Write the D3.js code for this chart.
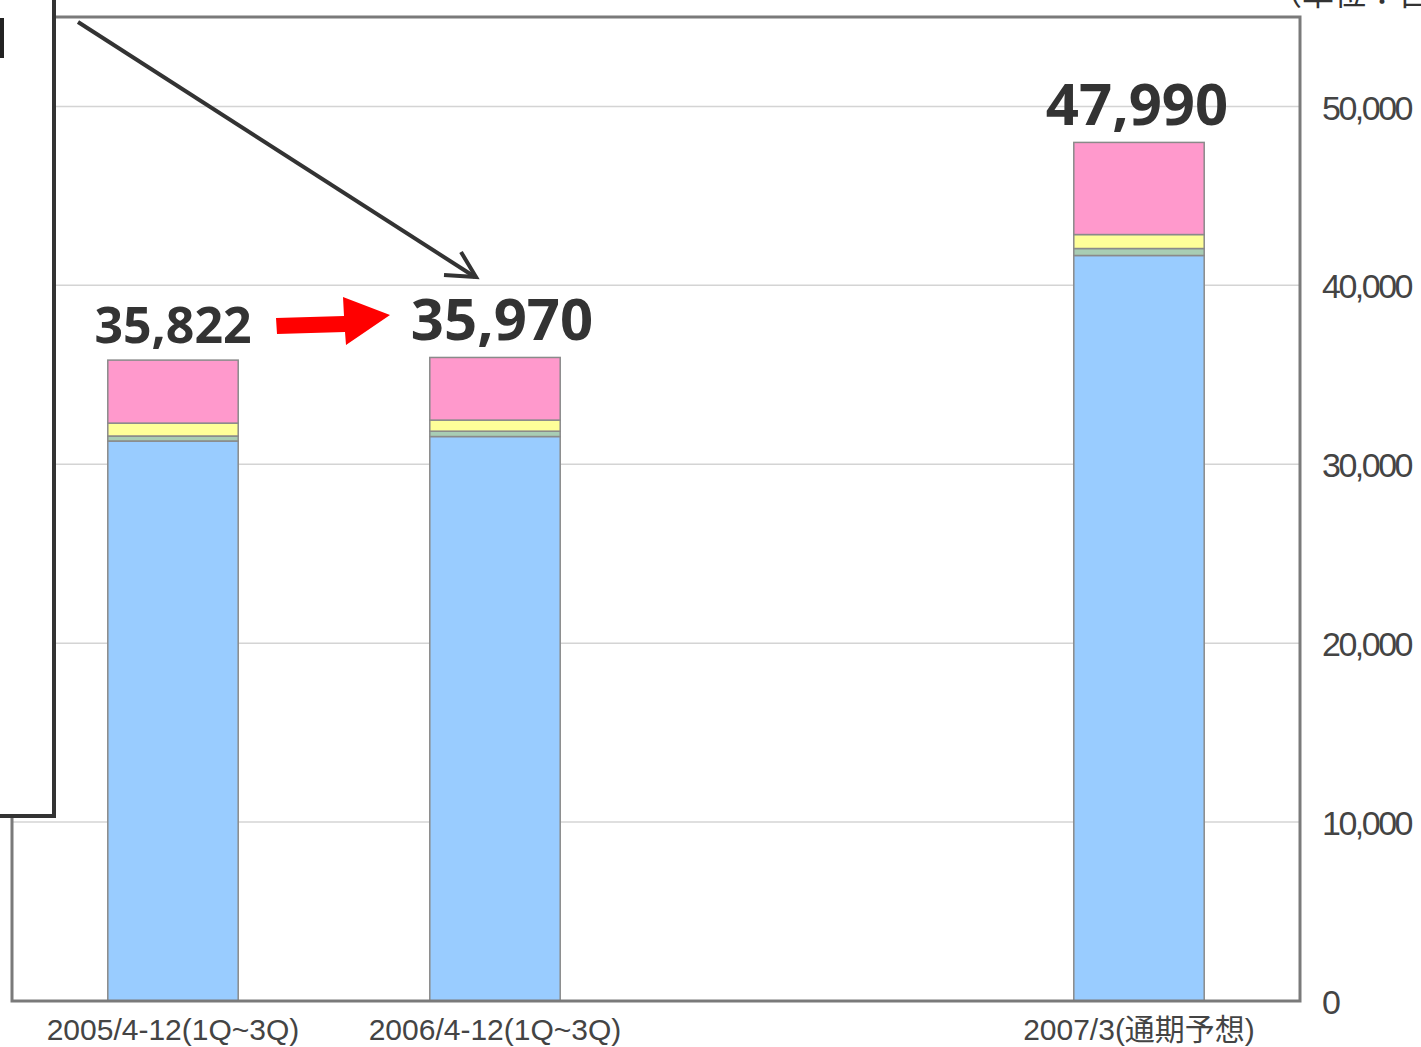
<!DOCTYPE html>
<html>
<head>
<meta charset="utf-8">
<script src="https://cdn.jsdelivr.net/npm/d3@7"></script>
<style>
  body { margin: 0; background: #fff; }
  svg { display: block; }
</style>
</head>
<body>
<svg id="chart"></svg>
<script>
// Data (millions of yen)
var periods = ["2005/4-12(1Q~3Q)", "2006/4-12(1Q~3Q)", "_gap", "2007/3(通期予想)"];
var seriesKeys = ["s1", "s2", "s3", "s4"];
var s1 = [31300, 31550, 41670];
var s2 = [280, 300, 390];
var s3 = [720, 620, 780];
var s4 = [3522, 3500, 5150];
var barPeriods = ["2005/4-12(1Q~3Q)", "2006/4-12(1Q~3Q)", "2007/3(通期予想)"];
var yTicks = [0, 10000, 20000, 30000, 40000, 50000];
var unitLabel = "（単位：百万円）";

var colors = { s1: "#99ccff", s2: "#a8cdb4", s3: "#ffff99", s4: "#ff99cc" };
var totalFont = [50, 58, 58];
var totalDx = [0, 7, -2];

var W = 1421, H = 1047;
var plot = { left: 12, right: 1300, top: 17, bottom: 1001 };

var svg = d3.select("#chart").attr("width", W).attr("height", H);

var rows = barPeriods.map(function(p, i) {
  return { period: p, s1: s1[i], s2: s2[i], s3: s3[i], s4: s4[i] };
});

var x = d3.scaleBand()
  .domain(periods)
  .range([plot.left, plot.right])
  .paddingInner(0.595)
  .paddingOuter(0.2975);

var y = d3.scaleLinear()
  .domain([0, 55000])
  .range([plot.bottom, plot.top]);

// gridlines
svg.append("g")
  .selectAll("line")
  .data(yTicks.slice(1))
  .join("line")
  .attr("x1", plot.left)
  .attr("x2", plot.right)
  .attr("y1", d => y(d))
  .attr("y2", d => y(d))
  .attr("stroke", "#d4d4d4")
  .attr("stroke-width", 1.5);

// stacked bars
var stack = d3.stack().keys(seriesKeys)(rows);
svg.append("g")
  .selectAll("g")
  .data(stack)
  .join("g")
  .attr("fill", d => colors[d.key])
  .selectAll("rect")
  .data(d => d)
  .join("rect")
  .attr("x", d => x(d.data.period))
  .attr("width", x.bandwidth())
  .attr("y", d => y(d[1]))
  .attr("height", d => y(d[0]) - y(d[1]))
  .attr("stroke", "#8a8a8a")
  .attr("stroke-width", 1.5);

// plot frame
svg.append("rect")
  .attr("x", plot.left)
  .attr("y", plot.top)
  .attr("width", plot.right - plot.left)
  .attr("height", plot.bottom - plot.top)
  .attr("fill", "none")
  .attr("stroke", "#7a7a7a")
  .attr("stroke-width", 3);

// right-side y axis labels
var yAxis = d3.axisRight(y).tickValues(yTicks).tickSize(0).tickPadding(0)
  .tickFormat(d3.format(","));
var ya = svg.append("g")
  .attr("transform", "translate(1322,0)")
  .call(yAxis);
ya.select(".domain").remove();
ya.selectAll("text")
  .attr("font-family", "'Liberation Sans', Arial, sans-serif")
  .attr("font-size", 34)
  .attr("letter-spacing", -2.5)
  .attr("fill", "#444")
  .attr("dy", "0.37em");

// x labels
svg.append("g")
  .selectAll("text")
  .data(barPeriods)
  .join("text")
  .attr("x", d => x(d) + x.bandwidth() / 2)
  .attr("y", 1040)
  .attr("text-anchor", "middle")
  .attr("font-family", "'Liberation Sans', Arial, 'Noto Sans CJK JP', sans-serif")
  .attr("font-size", 30)
  .attr("fill", "#444")
  .text(d => d);

// totals
svg.append("g")
  .selectAll("text")
  .data(rows)
  .join("text")
  .attr("x", (d, i) => x(d.period) + x.bandwidth() / 2 + totalDx[i])
  .attr("y", d => y(d.s1 + d.s2 + d.s3 + d.s4) - 17)
  .attr("text-anchor", "middle")
  .attr("font-family", "'Noto Sans', 'DejaVu Sans', sans-serif")
  .attr("font-weight", 700)
  .attr("font-size", (d, i) => totalFont[i])
  .attr("fill", "#333")
  .text(d => d3.format(",")(d.s1 + d.s2 + d.s3 + d.s4));

// red arrow between first two totals
svg.append("path")
  .attr("d", "M276,318 L344,316 L343,297 L390,315 L346,345 L345,332 L277,334 Z")
  .attr("fill", "#f00");

// callout box on the left (cut off by the frame of the picture)
svg.append("rect")
  .attr("x", -20)
  .attr("y", -20)
  .attr("width", 74)
  .attr("height", 836)
  .attr("fill", "#fff")
  .attr("stroke", "#333")
  .attr("stroke-width", 4);
svg.append("rect")
  .attr("x", 0).attr("y", 18).attr("width", 4).attr("height", 40)
  .attr("fill", "#222");

// pointer from the box to the second total
svg.append("line")
  .attr("x1", 78).attr("y1", 22)
  .attr("x2", 475).attr("y2", 277)
  .attr("stroke", "#333")
  .attr("stroke-width", 4);
svg.append("path")
  .attr("d", "M444,275 L476,277 L461,252")
  .attr("fill", "none")
  .attr("stroke", "#333")
  .attr("stroke-width", 4);

// unit label, mostly cut off at top as in the source
svg.append("text")
  .attr("x", 1270)
  .attr("y", 5)
  .attr("font-family", "'Noto Sans CJK JP', sans-serif")
  .attr("font-size", 32)
  .attr("fill", "#333")
  .text(unitLabel);
</script>
</body>
</html>
